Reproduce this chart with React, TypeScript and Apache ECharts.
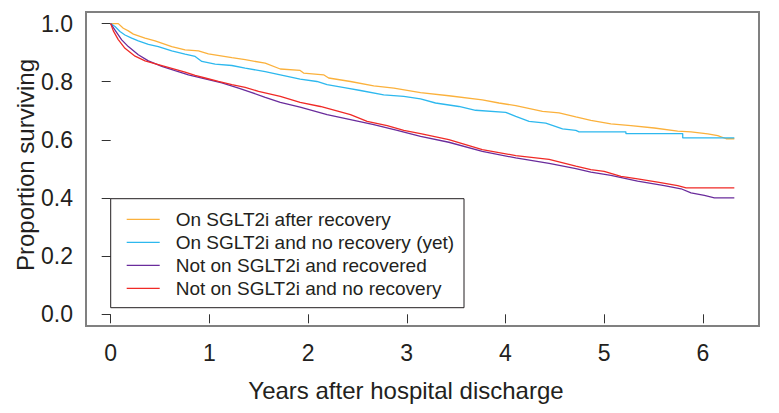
import React, { useEffect, useRef } from "react";
import * as echarts from "echarts";

const seriesNames = [
  "On SGLT2i after recovery",
  "On SGLT2i and no recovery (yet)",
  "Not on SGLT2i and recovered",
  "Not on SGLT2i and no recovery",
];
const seriesColors = ["#FBB13C", "#2DB8EE", "#6A2C9C", "#F02A26"];

const xTicks = [0, 1, 2, 3, 4, 5, 6];
const yTicks = [0, 0.2, 0.4, 0.6, 0.8, 1.0];

// [years, proportion surviving]
const onAfterRecovery: [number, number][] = [
  [0, 1.0], [0.077, 1.0], [0.128, 0.984], [0.179, 0.975], [0.23, 0.964], [0.348, 0.95],
  [0.45, 0.941], [0.619, 0.921], [0.754, 0.91], [0.89, 0.906], [0.99, 0.896], [1.228, 0.883],
  [1.363, 0.876], [1.566, 0.864], [1.719, 0.844], [1.92, 0.839], [1.955, 0.83], [2.158, 0.824],
  [2.209, 0.813], [2.43, 0.801], [2.666, 0.786], [2.87, 0.778], [3.14, 0.763], [3.427, 0.752],
  [3.766, 0.738], [3.935, 0.727], [4.105, 0.718], [4.376, 0.698], [4.544, 0.693], [4.714, 0.679],
  [4.866, 0.667], [5.069, 0.655], [5.272, 0.649], [5.509, 0.641], [5.746, 0.63], [5.881, 0.628],
  [6.051, 0.621], [6.152, 0.615], [6.237, 0.604], [6.32, 0.604],
];

const onNoRecovery: [number, number][] = [
  [0, 1.0], [0.044, 0.99], [0.094, 0.973], [0.145, 0.961], [0.213, 0.95], [0.28, 0.941],
  [0.382, 0.929], [0.483, 0.921], [0.619, 0.906], [0.754, 0.895], [0.856, 0.887], [0.924, 0.87],
  [1.059, 0.861], [1.228, 0.856], [1.363, 0.847], [1.566, 0.835], [1.719, 0.824], [1.92, 0.809],
  [2.09, 0.801], [2.193, 0.79], [2.396, 0.778], [2.531, 0.77], [2.767, 0.755], [2.97, 0.75],
  [3.14, 0.741], [3.292, 0.727], [3.529, 0.715], [3.698, 0.702], [4.003, 0.695], [4.105, 0.681],
  [4.24, 0.664], [4.409, 0.658], [4.579, 0.638], [4.714, 0.633], [4.747, 0.628], [5.221, 0.628],
  [5.221, 0.622], [5.797, 0.622], [5.797, 0.607], [6.32, 0.607],
];

const notOnRecovered: [number, number][] = [
  [0, 1.0], [0.044, 0.978], [0.112, 0.944], [0.179, 0.921], [0.28, 0.893], [0.382, 0.872],
  [0.518, 0.853], [0.653, 0.838], [0.788, 0.824], [0.957, 0.81], [1.127, 0.796], [1.296, 0.778],
  [1.431, 0.763], [1.566, 0.746], [1.719, 0.729], [1.92, 0.713], [2.193, 0.687], [2.43, 0.67],
  [2.666, 0.653], [2.904, 0.633], [3.14, 0.612], [3.427, 0.592], [3.766, 0.561], [4.105, 0.538],
  [4.443, 0.519], [4.714, 0.501], [4.866, 0.489], [5.069, 0.478], [5.34, 0.458], [5.61, 0.443],
  [5.78, 0.432], [5.881, 0.418], [6.016, 0.409], [6.118, 0.401], [6.32, 0.401],
];

const notOnNoRecovery: [number, number][] = [
  [0, 1.0], [0.027, 0.975], [0.077, 0.945], [0.145, 0.915], [0.247, 0.888], [0.348, 0.872],
  [0.483, 0.859], [0.619, 0.846], [0.754, 0.833], [0.856, 0.822], [0.957, 0.813], [1.092, 0.801],
  [1.228, 0.79], [1.363, 0.781], [1.498, 0.767], [1.719, 0.75], [1.92, 0.729], [2.125, 0.715],
  [2.43, 0.687], [2.599, 0.664], [2.802, 0.649], [2.97, 0.633], [3.14, 0.622], [3.427, 0.601],
  [3.766, 0.567], [4.105, 0.546], [4.443, 0.533], [4.714, 0.51], [4.866, 0.498], [5.001, 0.492],
  [5.171, 0.475], [5.34, 0.466], [5.543, 0.455], [5.746, 0.443], [5.831, 0.435], [6.32, 0.435],
];

const allSeries = [onAfterRecovery, onNoRecovery, notOnRecovered, notOnNoRecovery];

const FONT = "'Liberation Sans', Arial, Helvetica, sans-serif";
const TEXT = "#231f20";

export default function App() {
  const ref = useRef<HTMLDivElement>(null);
  useEffect(() => {
    if (!ref.current) return;
    const chart = echarts.init(ref.current, undefined, { renderer: "svg" });
    const option: any = {
      animation: false,
      backgroundColor: "#ffffff",
      textStyle: { fontFamily: FONT },
      grid: [
        {
          left: 86, top: 12, width: 673, height: 314,
          show: true, borderColor: "#808080", borderWidth: 2,
          backgroundColor: "transparent",
        },
        { left: 110.7, top: 23.6, width: 592.1, height: 290.7, show: false },
      ],
      xAxis: [
        { gridIndex: 0, type: "value", min: -0.25, max: 6.57, show: false },
        {
          gridIndex: 1, type: "value", min: 0, max: 6, interval: 1, offset: 11.7,
          axisLine: { show: false },
          axisTick: { show: true, length: 9, lineStyle: { color: "#333", width: 1 } },
          splitLine: { show: false },
          axisLabel: {
            margin: 15, fontSize: 23, color: TEXT, fontFamily: FONT,
            formatter: (v: number) => (xTicks.includes(v) ? String(v) : ""),
          },
        },
      ],
      yAxis: [
        { gridIndex: 0, type: "value", min: -0.04, max: 1.04, show: false },
        {
          gridIndex: 1, type: "value", min: 0, max: 1, interval: 0.2, offset: 24.7,
          axisLine: { show: false },
          axisTick: { show: true, length: 9, lineStyle: { color: "#333", width: 1 } },
          splitLine: { show: false },
          axisLabel: {
            margin: 13, fontSize: 23, color: TEXT, fontFamily: FONT,
            formatter: (v: number) => {
              const m = yTicks.find((t) => Math.abs(t - v) < 1e-6);
              return m === undefined ? "" : m.toFixed(1);
            },
          },
        },
      ],
      legend: {
        orient: "vertical",
        left: 126.7,
        top: 207.8,
        padding: 0,
        itemGap: 0,
        itemWidth: 33,
        itemHeight: 1.3,
        icon: "rect",
        data: seriesNames,
        textStyle: {
          fontSize: 19, color: TEXT, fontFamily: FONT, lineHeight: 23,
          padding: [0, 0, 0, 11],
        },
      },
      graphic: [
        {
          type: "rect",
          shape: { x: 110.7, y: 198.7, width: 353.3, height: 109 },
          style: { fill: "none", stroke: "#231f20", lineWidth: 1 },
          z: 1,
        },
        {
          type: "text",
          x: 406, y: 390,
          style: {
            text: "Years after hospital discharge", fontSize: 24, fill: TEXT,
            fontFamily: FONT, textAlign: "center", textVerticalAlign: "middle",
          },
        },
        {
          type: "text",
          x: 25, y: 165, rotation: Math.PI / 2,
          style: {
            text: "Proportion surviving", fontSize: 24, fill: TEXT,
            fontFamily: FONT, textAlign: "center", textVerticalAlign: "middle",
          },
        },
      ],
      series: allSeries.map((data, i) => ({
        name: seriesNames[i],
        type: "line",
        xAxisIndex: 0,
        yAxisIndex: 0,
        data,
        showSymbol: false,
        symbol: "none",
        color: seriesColors[i],
        lineStyle: { color: seriesColors[i], width: 1.3 },
        z: 3,
      })),
    };
    chart.setOption(option);
    return () => chart.dispose();
  }, []);
  return (
    <div
      ref={ref}
      style={{ position: "fixed", left: 0, top: 0, width: 779, height: 413 }}
    />
  );
}
